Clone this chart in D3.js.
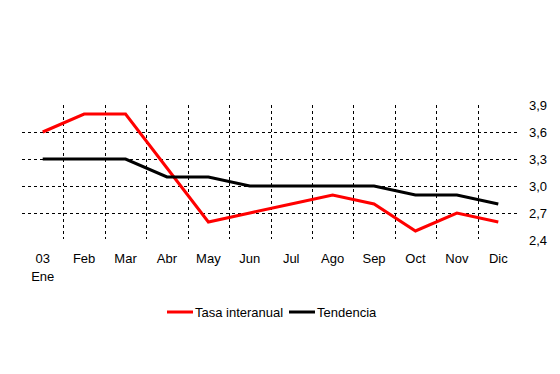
<!DOCTYPE html>
<html>
<head>
<meta charset="utf-8">
<script src="https://cdn.jsdelivr.net/npm/d3@7"></script>
<style>
  body { margin: 0; background: #fff; }
  text { font-family: "Liberation Sans", Arial, sans-serif; font-size: 13px; fill: #000; }
</style>
</head>
<body>
<div id="chart"></div>
<script>
// data
var months = ["03", "Feb", "Mar", "Abr", "May", "Jun", "Jul", "Ago", "Sep", "Oct", "Nov", "Dic"];
var tasa = [3.6, 3.8, 3.8, 3.2, 2.6, 2.7, 2.8, 2.9, 2.8, 2.5, 2.7, 2.6];
var tendencia = [3.3, 3.3, 3.3, 3.1, 3.1, 3.0, 3.0, 3.0, 3.0, 2.9, 2.9, 2.8];
var yTicks = [2.4, 2.7, 3.0, 3.3, 3.6, 3.9];
var seriesNames = ["Tasa interanual", "Tendencia"];
var seriesColors = ["#ff0000", "#000000"];

var width = 560, height = 374;
var svg = d3.select("#chart").append("svg")
  .attr("width", width)
  .attr("height", height);

var x = d3.scaleBand().domain(months).range([22, 519]);
var y = d3.scaleLinear().domain([2.4, 3.9]).range([240, 105]);

var fmt = function(d) { return d3.format(".1f")(d).replace(".", ","); };

// horizontal grid (inner ticks only)
svg.append("g").selectAll("line")
  .data(yTicks.slice(1, -1))
  .enter().append("line")
    .attr("x1", 22).attr("x2", 517)
    .attr("y1", function(d) { return Math.round(y(d)) + 0.5; })
    .attr("y2", function(d) { return Math.round(y(d)) + 0.5; })
    .attr("stroke", "#000")
    .attr("stroke-dasharray", "3,3");

// vertical grid between months
svg.append("g").selectAll("line")
  .data(months.slice(1))
  .enter().append("line")
    .attr("x1", function(d) { return Math.round(x(d)) + 0.5; })
    .attr("x2", function(d) { return Math.round(x(d)) + 0.5; })
    .attr("y1", 105).attr("y2", 239)
    .attr("stroke", "#000")
    .attr("stroke-dasharray", "3,3");

// y labels on the right
svg.append("g").selectAll("text")
  .data(yTicks)
  .enter().append("text")
    .attr("x", 529)
    .attr("y", function(d) { return y(d); })
    .attr("dy", "0.35em")
    .text(fmt);

// x labels
svg.append("g").selectAll("text")
  .data(months)
  .enter().append("text")
    .attr("x", function(d) { return x(d) + x.bandwidth() / 2; })
    .attr("y", 263)
    .attr("text-anchor", "middle")
    .text(function(d) { return d; });
svg.append("text")
  .attr("x", x("03") + x.bandwidth() / 2)
  .attr("y", 281)
  .attr("text-anchor", "middle")
  .text("Ene");

var line = d3.line()
  .x(function(d, i) { return x(months[i]) + x.bandwidth() / 2; })
  .y(function(d) { return y(d); });

[tasa, tendencia].forEach(function(s, i) {
  svg.append("path")
    .datum(s)
    .attr("fill", "none")
    .attr("stroke", seriesColors[i])
    .attr("stroke-width", 3)
    .attr("d", line);
});

// legend
var legend = svg.append("g");
var lx = [167, 289];
seriesNames.forEach(function(name, i) {
  legend.append("line")
    .attr("x1", lx[i]).attr("x2", lx[i] + 26)
    .attr("y1", 312).attr("y2", 312)
    .attr("stroke", seriesColors[i])
    .attr("stroke-width", 3);
  legend.append("text")
    .attr("x", lx[i] + 28)
    .attr("y", 312)
    .attr("dy", "0.35em")
    .text(name);
});
</script>
</body>
</html>
